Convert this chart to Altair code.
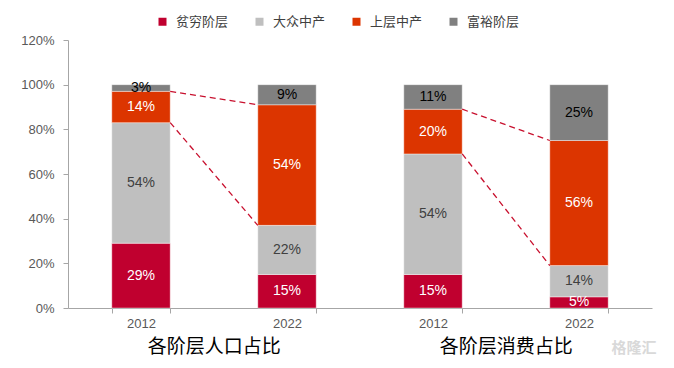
import altair as alt
import pandas as pd

tiers = ["贫穷阶层", "大众中产", "上层中产", "富裕阶层"]
colors = ["#C0002F", "#BFBFBF", "#DC3500", "#808080"]
label_colors = ["#FFFFFF", "#404040", "#FFFFFF", "#000000"]
groups = ["各阶层人口占比", "各阶层消费占比"]
years = ["2012", "2022"]
# share of each tier, bottom to top (%)
pop_2012 = [29, 54, 14, 3]
pop_2022 = [15, 22, 54, 9]
con_2012 = [15, 54, 20, 11]
con_2022 = [5, 14, 56, 25]
y_ticks = [0, 20, 40, 60, 80, 100, 120]

bars = [(groups[0], years[0], pop_2012), (groups[0], years[1], pop_2022),
        (groups[1], years[0], con_2012), (groups[1], years[1], con_2022)]

rows, keys = [], []
for g, yr, vals in bars:
    key = g + "|" + yr
    keys.append(key)
    for i, (t, v) in enumerate(zip(tiers, vals)):
        rows.append(dict(key=key, tier=t, order=i, v=v, lab=f"{v}%", lc=label_colors[i]))
df = pd.DataFrame(rows)

conn = []
for gi in range(2):
    a = bars[2 * gi][2]
    b = bars[2 * gi + 1][2]
    for level in (2, 3):
        conn.append(dict(frm=keys[2 * gi], to=keys[2 * gi + 1], ya=sum(a[:level]), yb=sum(b[:level])))
conn_df = pd.DataFrame(conn)

title_df = pd.DataFrame([dict(key=keys[0], g=groups[0]), dict(key=keys[2], g=groups[1])])

xscale = alt.Scale(domain=keys, paddingInner=0.6, paddingOuter=0.3)
yscale = alt.Scale(domain=[0, 120])

base = alt.Chart(df).transform_stack(
    stack="v", groupby=["key"], sort=[alt.SortField("order")], as_=["y0", "y1"]
)

bar = base.mark_bar(stroke="white", strokeWidth=0.8, strokeOpacity=0.5).encode(
    x=alt.X("key:N", scale=xscale, sort=keys,
            axis=alt.Axis(title=None, labelExpr="split(datum.label, '|')[1]",
                          tickBand="extent", labelAngle=0, labelPadding=4)),
    y=alt.Y("y0:Q", scale=yscale,
            axis=alt.Axis(title=None, values=y_ticks, labelExpr="datum.value + '%'",
                          labelPadding=9)),
    y2="y1:Q",
    color=alt.Color("tier:N", scale=alt.Scale(domain=tiers, range=colors),
                    legend=alt.Legend(title=None, orient="none", legendX=88, legendY=-25,
                                      direction="horizontal", columns=4,
                                      symbolType="square", symbolSize=64,
                                      symbolStrokeWidth=0,
                                      labelFont="Noto Sans CJK SC", labelFontSize=13,
                                      labelColor="#404040", labelOffset=7,
                                      columnPadding=24)),
    order="order:Q",
)

text = base.transform_calculate(mid="(datum.y0 + datum.y1) / 2").mark_text(
    font="Liberation Sans", fontSize=14
).encode(
    x=alt.X("key:N", scale=xscale, sort=keys),
    y=alt.Y("mid:Q", scale=yscale),
    text="lab:N",
    color=alt.Color("lc:N", scale=None),
)

rule = alt.Chart(conn_df).mark_rule(color="#C8102E", strokeDash=[6, 4], strokeWidth=1.3).encode(
    x=alt.X("frm:N", scale=xscale, sort=keys, bandPosition=1),
    x2=alt.X2("to:N", bandPosition=0),
    y=alt.Y("ya:Q", scale=yscale),
    y2="yb:Q",
)

titles = alt.Chart(title_df).mark_text(
    font="Noto Sans CJK SC", fontSize=19, color="#000000", baseline="middle", dx=44
).encode(
    x=alt.X("key:N", scale=xscale, sort=keys, bandPosition=1),
    y=alt.value(307),
    text="g:N",
)

wm = alt.Chart(pd.DataFrame([dict(t="格隆汇")])).mark_text(
    font="Noto Sans CJK SC", fontSize=15, fontWeight="bold", color="#D9D9D9"
).encode(x=alt.value(566), y=alt.value(308), text="t:N")

chart = alt.layer(bar, text, rule, titles, wm).resolve_scale(color="independent").properties(
    width=584, height=268,
    autosize=alt.AutoSizeParams(type="none"),
    padding={"left": 60, "top": 32, "right": 14, "bottom": 50},
).configure_view(stroke=None).configure_axis(
    grid=False, domainColor="#A6A6A6", tickColor="#A6A6A6", tickSize=5,
    labelColor="#595959", labelFont="Liberation Sans", labelFontSize=13,
)

chart.save("out.html", embed_options={"renderer": "svg", "actions": False})
